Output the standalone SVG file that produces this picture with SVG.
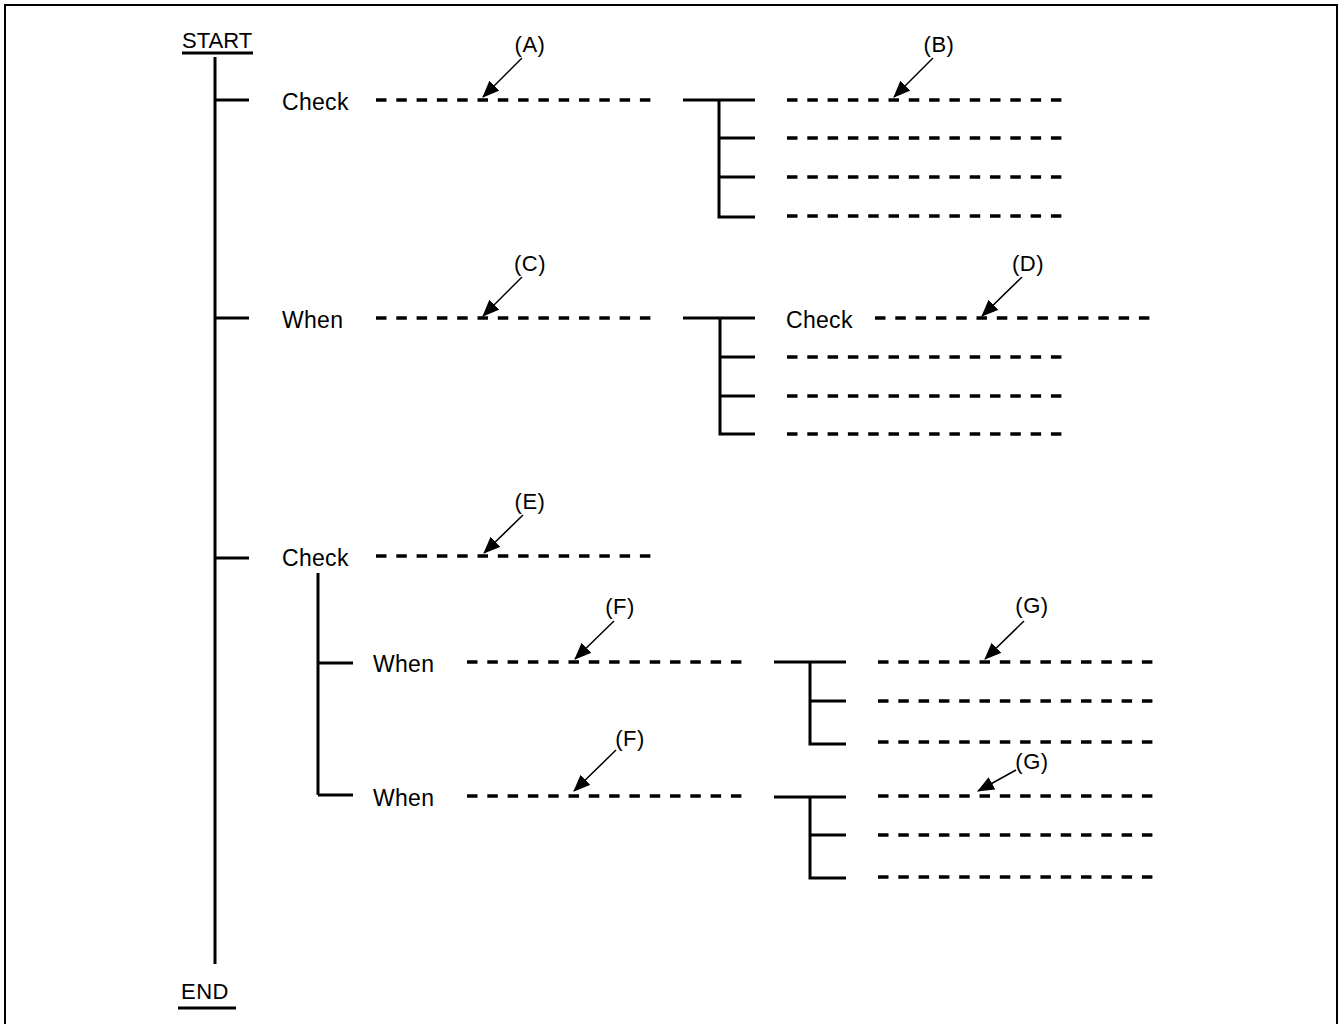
<svg xmlns="http://www.w3.org/2000/svg" width="1341" height="1024" viewBox="0 0 1341 1024">
<style>
  .t{font-family:"Liberation Sans",Arial,sans-serif;font-size:23px;letter-spacing:0.3px;fill:#000}
  .lb{font-family:"Liberation Sans",Arial,sans-serif;font-size:22px;letter-spacing:0.5px;fill:#000;text-anchor:middle}
  .s{stroke:#000;stroke-width:3;fill:none}
  .d{stroke:#000;stroke-width:3.5;fill:none;stroke-dasharray:10.5 9.8}
  .a{stroke:#000;stroke-width:1.5;fill:none;marker-end:url(#ah)}
</style>
<defs>
  <marker id="ah" markerWidth="17" markerHeight="14" refX="16" refY="7" orient="auto" markerUnits="userSpaceOnUse">
    <path d="M0,0 L17,7 L0,14 Z" fill="#000"/>
  </marker>
</defs>
<rect x="0" y="0" width="1341" height="1024" fill="#fff"/>
<rect x="5" y="5" width="1332" height="1040" fill="none" stroke="#000" stroke-width="2"/>

<g id="start"><text class="t" x="182" y="47.5" style="font-size:22px;letter-spacing:0">START</text><line class="s" x1="182" y1="53" x2="253" y2="53" stroke-width="2"/></g>
<g id="end"><text class="t" x="181" y="999" style="font-size:22px;letter-spacing:0.5px">END</text><line class="s" x1="178" y1="1008" x2="236" y2="1008" stroke-width="2"/></g>

<g id="connectors">
  <line class="s" x1="215" y1="57" x2="215" y2="964"/>
  <line class="s" x1="215" y1="100" x2="249" y2="100"/>
  <line class="s" x1="215" y1="318" x2="249" y2="318"/>
  <line class="s" x1="215" y1="558" x2="249" y2="558"/>
  <!-- T block 1 -->
  <path class="s" d="M683,100 H755 M719,100 V217 H755 M719,138 H755 M719,177 H755"/>
  <!-- T block 2 -->
  <path class="s" d="M683,318 H755 M720,318 V434 H755 M720,357 H755 M720,396 H755"/>
  <!-- sub tree -->
  <path class="s" d="M318,573 V795 M318,663 H353 M318,795 H353"/>
  <path class="s" d="M774,662 H846 M810,662 V744 H846 M810,701 H846"/>
  <path class="s" d="M774,797 H846 M810,797 V878 H846 M810,835 H846"/>
  <!-- arrows -->
  <line class="a" x1="522" y1="58" x2="483" y2="97"/>
  <line class="a" x1="933" y1="58" x2="894" y2="97"/>
  <line class="a" x1="522" y1="277" x2="483" y2="316"/>
  <line class="a" x1="1022" y1="277" x2="982" y2="316"/>
  <line class="a" x1="523" y1="515" x2="484" y2="553"/>
  <line class="a" x1="614" y1="621" x2="575" y2="659"/>
  <line class="a" x1="616" y1="750" x2="574" y2="791"/>
  <line class="a" x1="1024" y1="621" x2="985" y2="659"/>
  <line class="a" x1="1016" y1="770" x2="978" y2="791"/>
</g>

<g id="row1">
  <text class="t" x="282" y="110">Check</text>
  <line class="d" x1="376" y1="100" x2="657" y2="100"/>
  <text class="lb" x="530" y="52">(A)</text>
</g>
<g id="rowB">
  <line class="d" x1="787" y1="100" x2="1067" y2="100"/>
  <line class="d" x1="787" y1="138" x2="1067" y2="138"/>
  <line class="d" x1="787" y1="177" x2="1067" y2="177"/>
  <line class="d" x1="787" y1="216" x2="1067" y2="216"/>
  <text class="lb" x="939" y="52">(B)</text>
</g>
<g id="row2">
  <text class="t" x="282" y="328">When</text>
  <line class="d" x1="376" y1="318" x2="657" y2="318"/>
  <text class="lb" x="530" y="271">(C)</text>
</g>
<g id="rowD">
  <text class="t" x="786" y="328">Check</text>
  <line class="d" x1="875" y1="318" x2="1156" y2="318"/>
  <line class="d" x1="787" y1="357" x2="1067" y2="357"/>
  <line class="d" x1="787" y1="396" x2="1067" y2="396"/>
  <line class="d" x1="787" y1="434" x2="1067" y2="434"/>
  <text class="lb" x="1028" y="271">(D)</text>
</g>
<g id="row3">
  <text class="t" x="282" y="566">Check</text>
  <line class="d" x1="376" y1="556" x2="657" y2="556"/>
  <text class="lb" x="530" y="509">(E)</text>
</g>
<g id="rowF1">
  <text class="t" x="373" y="672">When</text>
  <line class="d" x1="467" y1="662" x2="747" y2="662"/>
  <text class="lb" x="620" y="614">(F)</text>
</g>
<g id="rowF2">
  <text class="t" x="373" y="806">When</text>
  <line class="d" x1="467" y1="796" x2="747" y2="796"/>
  <text class="lb" x="630" y="746">(F)</text>
</g>
<g id="rowG1">
  <line class="d" x1="878" y1="662" x2="1158" y2="662"/>
  <line class="d" x1="878" y1="701" x2="1158" y2="701"/>
  <line class="d" x1="878" y1="742" x2="1158" y2="742"/>
  <text class="lb" x="1032" y="613">(G)</text>
</g>
<g id="rowG2">
  <line class="d" x1="878" y1="796" x2="1158" y2="796"/>
  <line class="d" x1="878" y1="835" x2="1158" y2="835"/>
  <line class="d" x1="878" y1="877" x2="1158" y2="877"/>
  <text class="lb" x="1032" y="769">(G)</text>
</g>
</svg>
